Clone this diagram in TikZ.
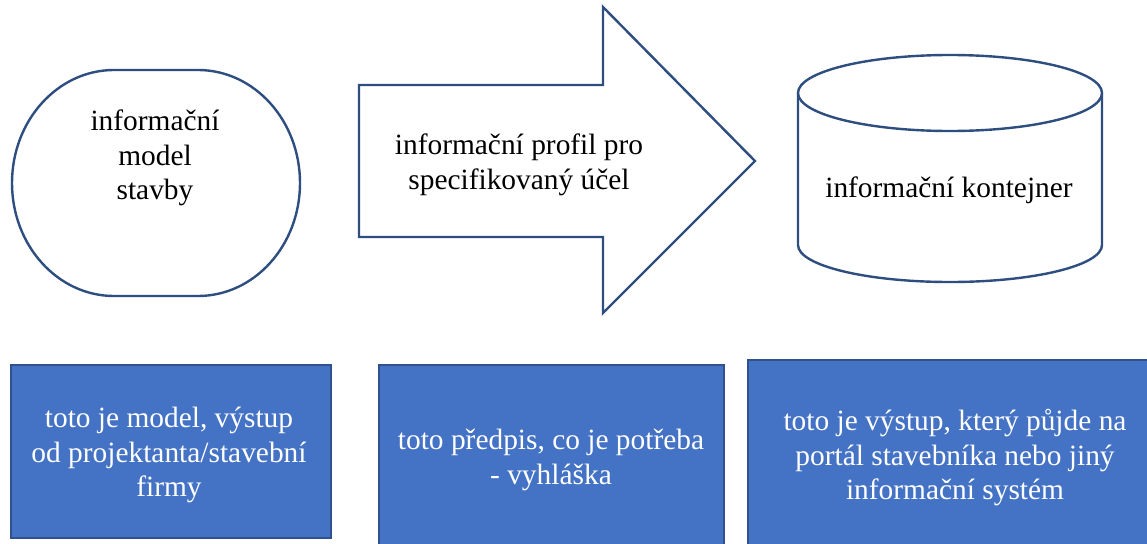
\documentclass[tikz,border=0pt]{standalone}
\usepackage{fontspec}
\setmainfont{Liberation Serif}
\definecolor{outl}{HTML}{2F4E80}
\definecolor{boxfill}{HTML}{4472C4}
\definecolor{boxline}{HTML}{2F528F}
\begin{document}
\begin{tikzpicture}[x=1pt,y=-1pt,
  shapeline/.style={draw=outl,line width=2.4pt,fill=white,line join=miter},
  bluebox/.style={draw=boxline,line width=2pt,fill=boxfill},
  lbl/.style={align=center,inner sep=0pt,font=\fontsize{29.4}{34.5}\selectfont},
  wlbl/.style={lbl,text=white}]
\useasboundingbox (0,0) rectangle (1147,543);
\clip (0,0) rectangle (1147,543);
% oval
\draw[shapeline] (114,70) -- (198,70)
  arc[start angle=-90,end angle=0,x radius=102,y radius=113]
  arc[start angle=0,end angle=90,x radius=102,y radius=113]
  -- (114,296)
  arc[start angle=90,end angle=180,x radius=102,y radius=113]
  arc[start angle=180,end angle=270,x radius=102,y radius=113] -- cycle;
\node[lbl] (model) at (155,158) {informační\\model\\stavby};
% arrow
\draw[shapeline] (359,85) -- (603,85) -- (603,7) -- (755,161) -- (603,313) -- (603,237) -- (359,237) -- cycle;
\node[lbl] (profil) at (519,165) {informační profil pro\\specifikovaný účel};
% cylinder
\draw[shapeline] (798,93) -- (798,245) arc[start angle=180,end angle=0,x radius=152,y radius=37] -- (1102,93);
\draw[shapeline] (950,93) ellipse[x radius=152,y radius=38];
\node[lbl] (kont) at (949,190) {informační kontejner};
% blue boxes
\draw[bluebox] (11,365) rectangle (331,538);
\node[wlbl] (b1) at (169,455) {toto je model, výstup\\od projektanta/stavební\\firmy};
\draw[bluebox] (379,365) rectangle (724,550);
\node[wlbl] (b2) at (551,460) {toto předpis, co je potřeba\\- vyhláška};
\draw[bluebox] (748,360) rectangle (1155,550);
\node[wlbl] (b3) at (955,458) {toto je výstup, který půjde na\\portál stavebníka nebo jiný\\informační systém};
\end{tikzpicture}
\end{document}
